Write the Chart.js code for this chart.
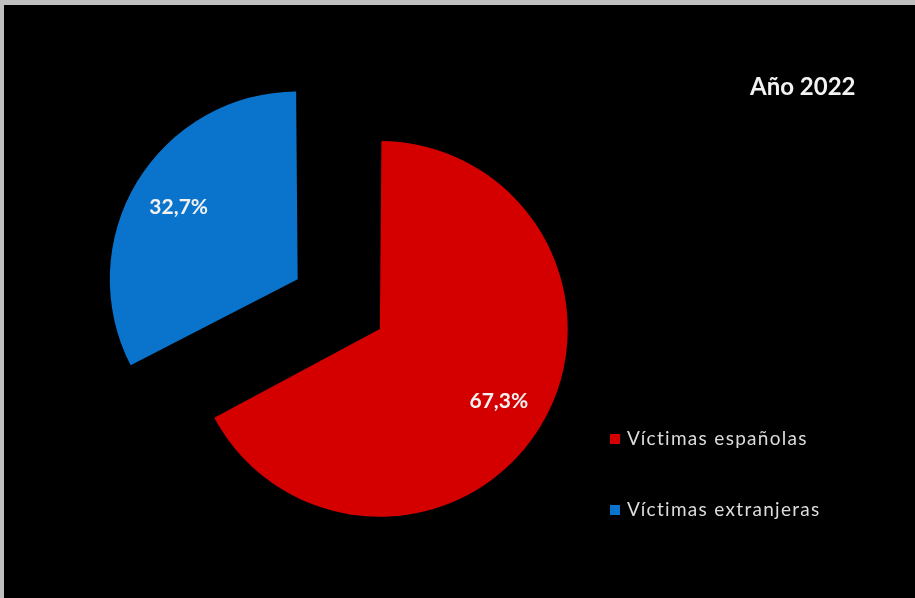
<!DOCTYPE html>
<html lang="es">
<head>
<meta charset="utf-8">
<title>Víctimas 2022</title>
<script src="https://cdn.jsdelivr.net/npm/chart.js@4"></script>
<style>
  html, body { margin: 0; padding: 0; }
  body { width: 915px; height: 598px; background: #c0c0c0; position: relative; overflow: hidden; font-family: Lato, "Open Sans", sans-serif; }
  #panel { position: absolute; left: 4px; top: 5px; right: 0; bottom: 0; background: #000; }
  #pie { position: absolute; left: 0; top: 0; }
  #title { position: absolute; left: 750px; top: 74px; font-size: 24px; line-height: 24px; font-weight: bold; color: #f2f2f2; white-space: nowrap; }
  .leg { position: absolute; left: 610px; font-size: 19px; line-height: 19px; letter-spacing: 1.3px; color: #dcdcdc; white-space: nowrap; }
  .leg i { display: inline-block; width: 10px; height: 10px; margin-right: 7px; vertical-align: 1px; }
</style>
</head>
<body>
<div id="panel"></div>
<canvas id="pie" width="915" height="598"></canvas>
<div id="title">Año 2022</div>
<div id="legend"></div>

<script>
const labels = ["Víctimas españolas", "Víctimas extranjeras"];
const shares = [67.3, 32.7];
const colors = ["#d40000", "#0a74cc"];
// exploded blue slice; small red offset only to keep both radii equal (chart.js v4 arc offset math)
const offsets = [39.5, 344.5];

// legend (html, built from the same arrays)
const legendEl = document.getElementById("legend");
const legendTops = [428, 499];
labels.forEach((l, i) => {
  const d = document.createElement("div");
  d.className = "leg";
  d.style.top = legendTops[i] + "px";
  d.innerHTML = `<i style="background:${colors[i]}"></i>${l}`;
  legendEl.appendChild(d);
});

// percentage labels inside the slices
const pctLabels = {
  id: "pctLabels",
  afterDatasetsDraw(chart) {
    const ctx = chart.ctx;
    const meta = chart.getDatasetMeta(0);
    ctx.save();
    ctx.font = "bold 21px Lato, 'Open Sans', sans-serif";
    ctx.fillStyle = "#f2f2f2";
    ctx.textAlign = "center";
    ctx.textBaseline = "middle";
    meta.data.forEach((arc, i) => {
      const p = arc.getProps(["x", "y", "startAngle", "endAngle", "outerRadius", "circumference"], true);
      const off = (arc.options.offset || 0) / 4;
      const fix = 1 - Math.sin(Math.min(Math.PI, p.circumference));
      const r = p.outerRadius + off * fix;
      const mid = (p.startAngle + p.endAngle) / 2;
      const d = off + r * 0.74;
      const txt = shares[i].toFixed(1).replace(".", ",") + "%";
      ctx.fillText(txt, p.x + Math.cos(mid) * d, p.y + Math.sin(mid) * d);
    });
    ctx.restore();
  }
};

new Chart(document.getElementById("pie"), {
  type: "pie",
  data: {
    labels,
    datasets: [{
      data: shares,
      backgroundColor: colors,
      borderWidth: 0,
      offset: offsets,
      hoverOffset: 0
    }]
  },
  options: {
    responsive: false,
    animation: false,
    radius: 178,
    layout: { padding: { left: 121.4, right: 293.6, top: 73.8, bottom: 24.2 } },
    plugins: {
      legend: { display: false },
      tooltip: { enabled: false },
      title: { display: false }
    }
  },
  plugins: [pctLabels]
});
</script>
</body>
</html>
